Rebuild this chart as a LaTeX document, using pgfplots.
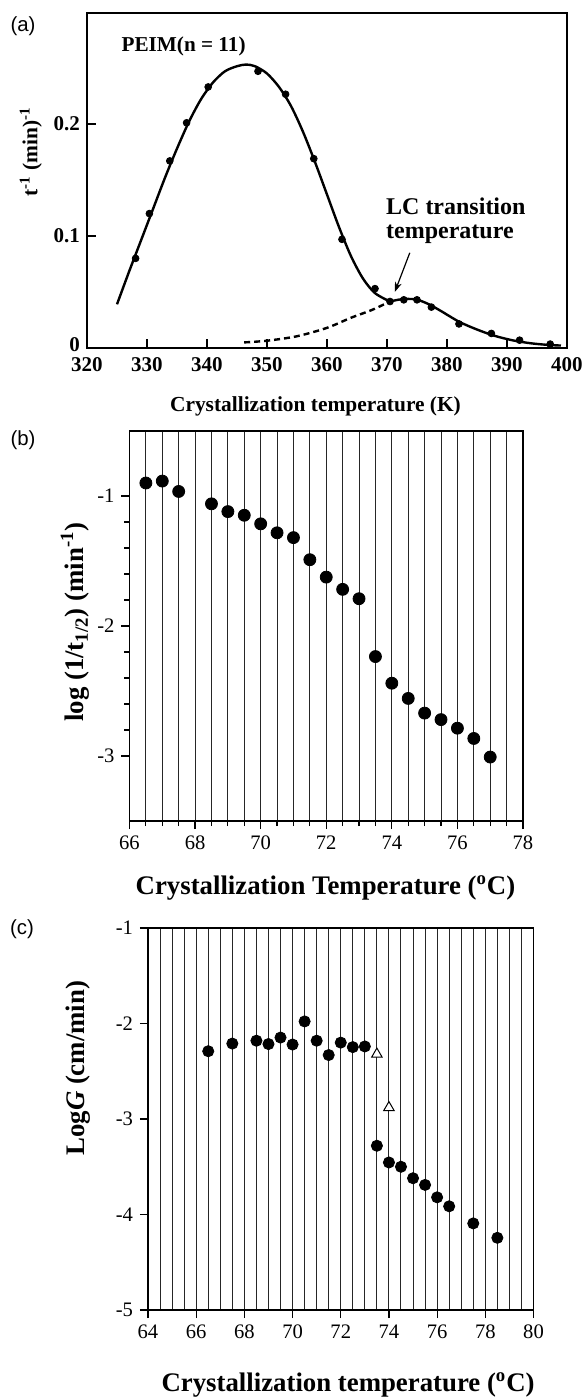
\documentclass[border=0pt]{standalone}
\usepackage{fontspec}
\setmainfont{Liberation Serif}
\newfontfamily\panelsans{Liberation Sans}
\usepackage{pgfplots}
\pgfplotsset{compat=1.18}
\usetikzlibrary{arrows.meta}

% shared look of panels (b) and (c)
\pgfplotsset{
  gridpanel/.style={
    scale only axis, anchor=south west, clip=false,
    /pgf/number format/assume math mode=true,
    axis line style={line width=0.6pt},
    tick style={line width=0.6pt, black},
    tick align=outside, tick pos=left,
    major tick length=4pt, minor tick length=2.5pt,
    xmajorgrids, xminorgrids,
    major grid style={line width=0.5pt, black!85},
    minor grid style={line width=0.5pt, black!85},
    ticklabel style={font=\fontsize{10.3}{12}\selectfont},
    label style={font=\fontsize{13.4}{15}\selectfont\bfseries},
  },
}

\begin{document}
\begin{tikzpicture}
\useasboundingbox (0,0) rectangle (292pt,-699.5pt);

% ---------- (a)
\begin{axis}[
  at={(43.5pt,-174pt)}, anchor=south west, scale only axis, clip=false,
  width=240pt, height=167.5pt,
  xmin=320, xmax=400, ymin=0, ymax=0.299,
  xtick={320,330,...,400}, ytick={0,0.1,0.2},
  yticklabels={\raisebox{3pt}{0},0.1,0.2},
  axis line style={line width=1pt},
  tick style={line width=1pt, black},
  tick align=inside, tick pos=left, major tick length=4.5pt,
  /pgf/number format/assume math mode=true,
  ticklabel style={font=\fontsize{10.5}{12}\selectfont\bfseries},
  xticklabel style={yshift=-1pt},
  xlabel={Crystallization temperature (K)},
  ylabel={t\textsuperscript{-1} (min)\textsuperscript{-1}},
  label style={font=\fontsize{10.7}{12}\selectfont\bfseries},
  xlabel style={at={(axis description cs:0.476,-0.173)}, anchor=center},
  ylabel style={at={(axis description cs:-0.117,0.585)}, anchor=center},
]
\addplot[black, line width=1.2pt, smooth] coordinates {
  (325,0.039) (327,0.068) (329,0.096) (331,0.124) (333,0.152) (335,0.178)
  (337,0.202) (339,0.222) (341,0.237) (343,0.247) (345,0.2515) (346.5,0.253)
  (348,0.2515) (350,0.245) (352,0.233) (354,0.216) (356,0.193) (358,0.166)
  (360,0.137) (362,0.108) (364,0.082) (366,0.062) (368,0.049) (370.5,0.0415)
};
\addplot[black, line width=1.2pt, smooth] coordinates {
  (370.5,0.0415) (372,0.0432) (373.5,0.0438) (375,0.0432) (377,0.039)
  (379,0.033) (382,0.0235) (385,0.0165) (388,0.0108) (391,0.0068)
  (394,0.0042) (397,0.0027) (399,0.0022)
};
\addplot[black, line width=1.2pt, dash pattern=on 3pt off 2pt, smooth] coordinates {
  (346.2,0.005) (350,0.0065) (355,0.0105) (360,0.018) (364,0.027)
  (367.5,0.034) (370.5,0.0415)
};
\addplot[black, only marks, mark=*, mark size=1.7pt] coordinates {
  (328.1,0.080) (330.4,0.120) (333.8,0.167) (336.6,0.201) (340.2,0.233)
  (348.5,0.247) (353.1,0.2265) (357.8,0.169) (362.5,0.097) (368.0,0.053)
  (370.5,0.0415) (372.8,0.043) (375.0,0.043) (377.4,0.0365) (382.0,0.0215)
  (387.4,0.013) (392.1,0.007) (397.2,0.0035)
};
\node[font=\fontsize{10.6}{12}\selectfont\bfseries] at (axis cs:336.1,0.269) {PEIM(n = 11)};
\node[anchor=west, align=left, inner sep=0pt, font=\fontsize{12}{12}\selectfont\bfseries]
  at (axis cs:369.8,0.114) {LC transition\\temperature};
\draw[-{Stealth[length=5pt,width=3.5pt]}, line width=0.6pt]
  (axis cs:373.8,0.085) -- (axis cs:371.3,0.05);
\end{axis}

% ---------- (b)
\begin{axis}[gridpanel,
  at={(64.75pt,-410.5pt)}, width=196.75pt, height=195pt,
  xmin=66, xmax=78, ymin=-3.5, ymax=-0.5,
  xtick={66,68,...,78}, minor x tick num=3,
  ytick={-3,-2,-1}, yticklabels={-3,-2,-1}, minor y tick num=4,
  xlabel={Crystallization Temperature (\textsuperscript{o}C)},
  ylabel={log (1/t\textsubscript{1/2}) (min\textsuperscript{-1})},
  xlabel style={at={(axis description cs:0.498,-0.171)}, anchor=center},
  ylabel style={at={(axis description cs:-0.1385,0.51)}, anchor=center},
]
\addplot[black, only marks, mark=*, mark size=3pt] coordinates {
  (66.5,-0.90) (67,-0.885) (67.5,-0.965) (68.5,-1.06) (69,-1.12)
  (69.5,-1.148) (70,-1.214) (70.5,-1.283) (71,-1.32) (71.5,-1.49)
  (72,-1.624) (72.5,-1.718) (73,-1.79) (73.5,-2.235) (74,-2.44)
  (74.5,-2.557) (75,-2.67) (75.5,-2.72) (76,-2.786) (76.5,-2.865)
  (77,-3.008)
};
\end{axis}

% ---------- (c)
\begin{axis}[gridpanel,
  at={(74pt,-655pt)}, width=192.75pt, height=191pt,
  xmin=64, xmax=80, ymin=-5, ymax=-1,
  xtick={64,66,...,80}, minor x tick num=3, minor tick length=0pt,
  ytick={-5,-4,-3,-2,-1}, yticklabels={-5,-4,-3,-2,-1},
  xlabel={Crystallization temperature (\textsuperscript{o}C)},
  ylabel={Log\textit{G} (cm/min)},
  xlabel style={at={(axis description cs:0.519,-0.196)}, anchor=center},
  ylabel style={at={(axis description cs:-0.1816,0.633)}, anchor=center},
]
\addplot[black, only marks, mark=*, mark size=2.8pt] coordinates {
  (66.5,-2.29) (67.5,-2.21) (68.5,-2.18) (69,-2.215) (69.5,-2.147)
  (70,-2.22) (70.5,-1.978) (71,-2.18) (71.5,-2.33) (72,-2.20)
  (72.5,-2.247) (73,-2.24) (73.5,-3.28) (74,-3.455) (74.5,-3.50)
  (75,-3.62) (75.5,-3.69) (76,-3.82) (76.5,-3.914) (77.5,-4.093)
  (78.5,-4.244)
};
\addplot[black, only marks, mark=triangle*, mark size=3pt,
  mark options={fill=white, draw=black, line width=0.5pt}] coordinates {
  (73.5,-2.32) (74,-2.88)
};
\end{axis}

\node[font=\panelsans\fontsize{10.2}{12}\selectfont] at (11.5pt,-13pt) {(a)};
\node[font=\panelsans\fontsize{10.2}{12}\selectfont] at (11.5pt,-220pt) {(b)};
\node[font=\panelsans\fontsize{10.2}{12}\selectfont] at (11pt,-464.5pt) {(c)};
\end{tikzpicture}
\end{document}
